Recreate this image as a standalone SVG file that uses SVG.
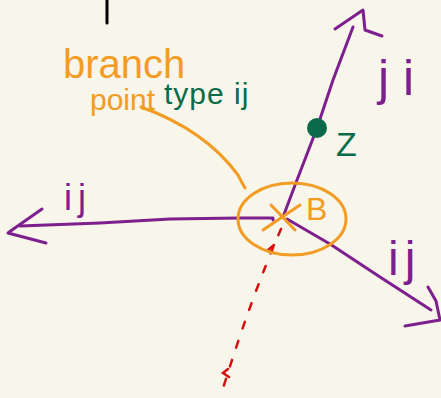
<svg xmlns="http://www.w3.org/2000/svg" width="441" height="398" viewBox="0 0 441 398">
<style>
.p{fill:none;stroke:#7e1f8e;stroke-width:3;stroke-linecap:round;stroke-linejoin:round}
.o{fill:none;stroke:#f39c24;stroke-width:3;stroke-linecap:round;stroke-linejoin:round}
.r{fill:none;stroke:#d40f0f;stroke-width:2.5;stroke-linecap:round}
.t{font-family:"Liberation Sans",Arial,sans-serif}
.tp{fill:#7e1f8e}
.to{fill:#f39c24}
.tg{fill:#096b4a}
</style>
<rect width="441" height="398" fill="#f8f5ea"/>
<g id="top-mark"><path d="M107 0 L107 23" stroke="#000" stroke-width="3" stroke-linecap="round"/></g>
<g id="connectors">
<path class="p" d="M353 27 L333 80 L317 128 L297 180 L283 217"/>
<path class="p" d="M335 29 L363 10 L365 30 L382 36"/>
<path class="p" d="M273 220 L273 218 L240 218 L170 219 L100 223 L20 226"/>
<path class="p" d="M42 209 L12 230 L8 233 L46 243"/>
<path class="p" d="M287 219 L330 244 L380 277 L431 310"/>
<path class="p" d="M428 287 L436 301 L440 320 L405 326"/>
<path class="r" stroke-dasharray="7 13" d="M281 229 Q250 300 220 398"/>
<path class="r" d="M274 245 L268 250 L274 253"/>
<path class="r" d="M228 369 L223 373 L229 377"/>
<path class="o" d="M141 107 Q205 130 238 175 Q242 183 245 188"/>
</g>
<g id="branch-point">
<ellipse class="o" cx="292" cy="219" rx="54" ry="36"/>
<path class="o" d="M263 230 L300 205 M271 205 L295 230"/>
<text class="t to" x="306" y="220" font-size="32">B</text>
<text class="t to" x="63" y="78" font-size="40">branch</text>
<text class="t to" x="90" y="110" font-size="30">point</text>
<text class="t tg" x="164" y="104" font-size="30" letter-spacing="1">type ij</text>
</g>
<g id="z-node">
<circle cx="317" cy="128" r="10" fill="#096b4a"/>
<text class="t tg" x="336" y="156" font-size="34">Z</text>
</g>
<g id="labels">
<text class="t tp" x="378" y="95" font-size="50" letter-spacing="14">ji</text>
<text class="t tp" x="64" y="210" font-size="36" letter-spacing="6">ij</text>
<text class="t tp" x="388" y="275" font-size="48" letter-spacing="6">ij</text>
</g>
</svg>
